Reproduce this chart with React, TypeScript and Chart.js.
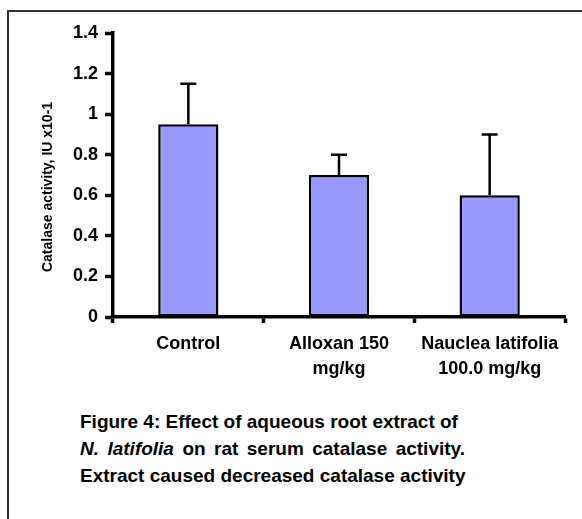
import React, { useEffect, useRef } from 'react';
import { Chart, registerables } from 'chart.js';

Chart.register(...registerables);

const categories: string[][] = [['Control'], ['Alloxan 150', 'mg/kg'], ['Nauclea latifolia', '100.0 mg/kg']];
const values: number[] = [0.95, 0.7, 0.6];
const errors: number[] = [0.2, 0.1, 0.3];
const yMin = 0;
const yMax = 1.4;
const yStep = 0.2;
const yTitle = 'Catalase activity, IU x10-1';
const captionLine1 = 'Figure 4: Effect of aqueous root extract of';
const captionItalic = 'N. latifolia';
const captionLine2Rest = ' on rat serum catalase activity.';
const captionLine3 = 'Extract caused decreased catalase activity';

const FONT = '"Liberation Sans", Arial, Helvetica, sans-serif';

const errorBarPlugin = {
  id: 'errorBars',
  afterDatasetsDraw(chart: any) {
    const ctx = chart.ctx;
    const meta = chart.getDatasetMeta(0);
    const yScale = chart.scales.y;
    ctx.save();
    ctx.strokeStyle = '#000';
    ctx.lineWidth = 2.5;
    meta.data.forEach((bar: any, i: number) => {
      const x = bar.x;
      const top = yScale.getPixelForValue(values[i] + errors[i]);
      ctx.beginPath();
      ctx.moveTo(x, bar.y);
      ctx.lineTo(x, top);
      ctx.moveTo(x - 8, top);
      ctx.lineTo(x + 8, top);
      ctx.stroke();
    });
    ctx.restore();
  },
};

const yTitlePlugin = {
  id: 'yTitle',
  afterDraw(chart: any) {
    const ctx = chart.ctx;
    const area = chart.chartArea;
    const cy = (area.top + area.bottom) / 2 + 12;
    ctx.save();
    ctx.translate(39, cy);
    ctx.rotate(-Math.PI / 2);
    ctx.fillStyle = '#000';
    ctx.font = `bold 14px ${FONT}`;
    ctx.textAlign = 'center';
    ctx.textBaseline = 'middle';
    ctx.fillText(yTitle, 0, 0);
    ctx.restore();
  },
};

export default function App() {
  const canvasRef = useRef<HTMLCanvasElement | null>(null);

  useEffect(() => {
    if (!canvasRef.current) return;
    const chart = new Chart(canvasRef.current, {
      type: 'bar',
      data: {
        labels: categories as any,
        datasets: [
          {
            data: values,
            backgroundColor: '#9999FF',
            borderColor: '#000',
            borderWidth: 2.5,
            borderSkipped: false,
            barPercentage: 0.4,
            categoryPercentage: 1,
          },
        ],
      },
      options: {
        animation: false,
        responsive: false,
        devicePixelRatio: 1,
        layout: { padding: { left: 0, right: 17, top: 21, bottom: 0 } },
        plugins: { legend: { display: false }, tooltip: { enabled: false } },
        scales: {
          x: {
            type: 'category',
            offset: true,
            z: 1,
            grid: {
              offset: true,
              drawOnChartArea: false,
              drawTicks: true,
              tickLength: 6,
              tickWidth: 3.5,
              tickColor: '#000',
            },
            border: { display: true, color: '#000', width: 3.5 },
            ticks: {
              color: '#000',
              font: { family: FONT, size: 18, weight: 'bold', lineHeight: 25 / 18 },
              padding: 9,
              maxRotation: 0,
              autoSkip: false,
            },
            afterFit(scale: any) {
              scale.height = 85;
            },
          },
          y: {
            min: yMin,
            max: yMax,
            grid: {
              drawOnChartArea: false,
              drawTicks: true,
              tickLength: 8,
              tickWidth: 3.5,
              tickColor: '#000',
            },
            border: { display: true, color: '#000', width: 3.5 },
            ticks: {
              stepSize: yStep,
              color: '#000',
              padding: 7,
              font: { family: FONT, size: 18, weight: 'bold' },
              callback: (v: any) => String(Math.round(Number(v) * 10) / 10),
            },
            afterFit(scale: any) {
              scale.width = 104;
            },
          },
        },
      } as any,
      plugins: [errorBarPlugin, yTitlePlugin],
    });
    return () => chart.destroy();
  }, []);

  const lineStyle: React.CSSProperties = { whiteSpace: 'nowrap', height: 27.2 };

  return (
    <div
      style={{
        position: 'fixed',
        left: 7,
        top: 10,
        width: 575,
        height: 509,
        borderTop: '2px solid #333',
        borderLeft: '2px solid #333',
        boxSizing: 'border-box',
        background: '#fff',
      }}
    >
      <canvas
        ref={canvasRef}
        width={573}
        height={390}
        style={{ position: 'absolute', left: 0, top: 0, width: 573, height: 390 }}
      />
      <div
        style={{
          position: 'absolute',
          left: 71,
          top: 396,
          width: 385,
          fontFamily: FONT,
          fontWeight: 'bold',
          fontSize: 19,
          lineHeight: '27.2px',
          color: '#000',
        }}
      >
        <div style={lineStyle}>{captionLine1}</div>
        <div style={{ height: 27.2, textAlign: 'justify', textAlignLast: 'justify' } as any}>
          <i>{captionItalic}</i>
          {captionLine2Rest}
        </div>
        <div style={lineStyle}>{captionLine3}</div>
      </div>
    </div>
  );
}
